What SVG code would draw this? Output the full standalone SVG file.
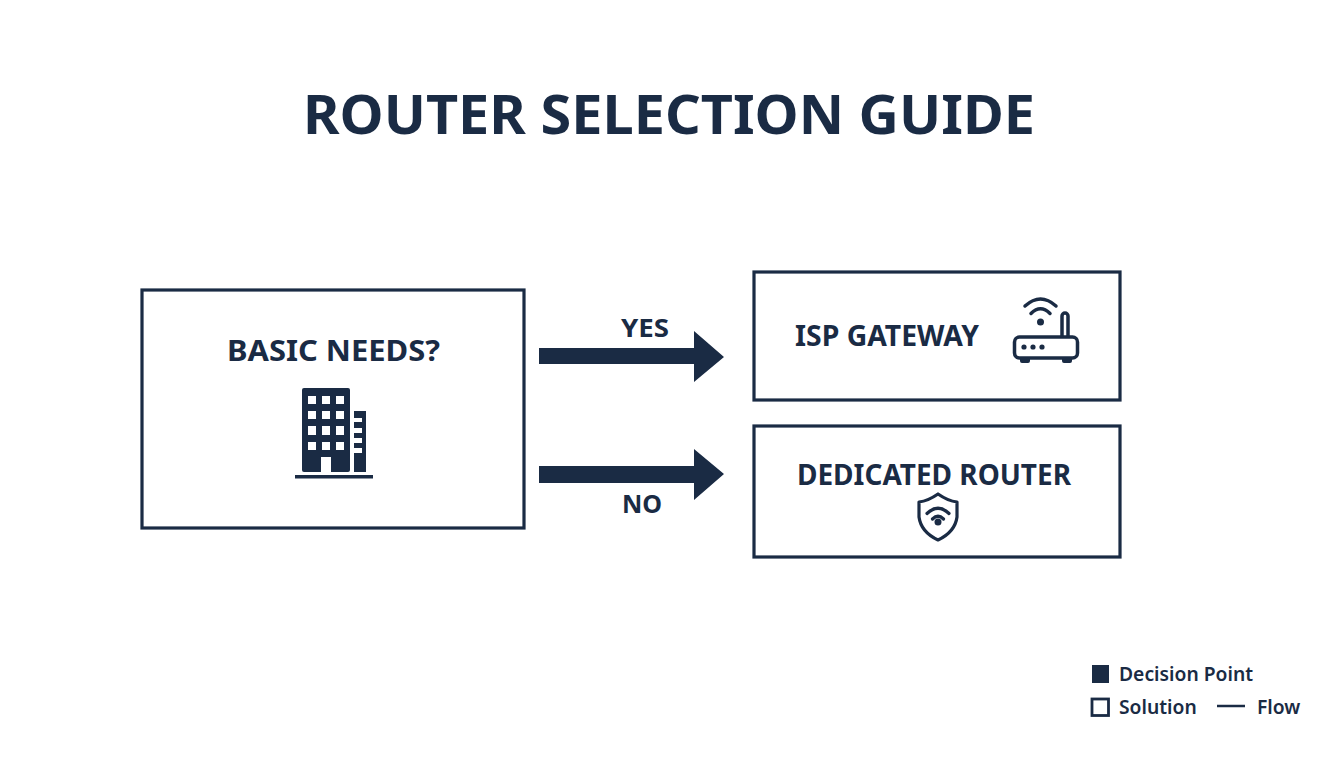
<svg xmlns="http://www.w3.org/2000/svg" width="1344" height="768" viewBox="0 0 1344 768">
<style>
text{font-family:"Noto Sans","Open Sans","Liberation Sans",sans-serif;fill:#1a2b44;font-weight:700;text-anchor:middle}
.box{fill:#fff;stroke:#1a2b44;stroke-width:3.200}
.lbl{font-size:28px}
.edge{font-size:25px}
.leg{font-size:19.300px;font-weight:600;text-anchor:start}
.ink{fill:#1a2b44}
.line{fill:none;stroke:#1a2b44;stroke-linecap:round;stroke-linejoin:round}
.w{fill:#fff}
</style>
<rect width="1344" height="768" fill="#fff"/>
<text id="title" x="669" y="134" font-size="54" textLength="732" lengthAdjust="spacingAndGlyphs">ROUTER SELECTION GUIDE</text>
<g id="connectors">
<path id="yes-arrow" class="ink" d="M539 348H694V331L724 357L694 382V364H539Z"/>
<path id="no-arrow" class="ink" d="M539 466H694V449L724 474L694 500V483H539Z"/>
<text class="edge" x="645" y="337" textLength="48" lengthAdjust="spacingAndGlyphs">YES</text>
<text class="edge" x="642" y="513">NO</text>
</g>
<g id="node-basic-needs">
<rect class="box" x="142" y="290" width="382" height="238"/>
<text class="lbl" x="333.500" y="361" textLength="213" lengthAdjust="spacingAndGlyphs">BASIC NEEDS?</text>
<g id="icon-building">
<rect class="ink" x="302" y="388" width="48" height="84" rx="2"/>
<g class="w">
<rect x="308" y="396" width="8" height="8"/><rect x="322" y="396" width="8" height="8"/><rect x="336" y="396" width="8" height="8"/>
<rect x="308" y="411" width="8" height="8"/><rect x="322" y="411" width="8" height="8"/><rect x="336" y="411" width="8" height="8"/>
<rect x="308" y="426" width="8" height="9"/><rect x="322" y="426" width="8" height="9"/><rect x="336" y="426" width="8" height="9"/>
<rect x="308" y="442" width="8" height="8"/><rect x="322" y="442" width="8" height="8"/><rect x="336" y="442" width="8" height="8"/>
<rect x="321" y="457" width="10" height="15"/>
</g>
<rect class="ink" x="354" y="411" width="12" height="61"/>
<g class="w">
<rect x="354" y="418" width="8" height="4"/><rect x="354" y="428" width="8" height="5"/><rect x="354" y="438" width="8" height="5"/><rect x="354" y="448" width="8" height="5"/>
</g>
<rect class="ink" x="295" y="475" width="78" height="3.500"/>
</g>
</g>
<g id="node-isp-gateway">
<rect class="box" x="754" y="272" width="366" height="128"/>
<text class="lbl" x="887" y="346" textLength="184" lengthAdjust="spacingAndGlyphs">ISP GATEWAY</text>
<g id="icon-router">
<rect class="line" x="1014.500" y="337" width="63" height="21" rx="5" stroke-width="3.500"/>
<path class="line" stroke-width="3.500" d="M1062 336V316a3 3 0 0 1 6 0V336"/>
<path class="ink" d="M1020 359h10v2a2 2 0 0 1-2 2h-6a2 2 0 0 1-2-2zM1062 359h10v2a2 2 0 0 1-2 2h-6a2 2 0 0 1-2-2z"/>
<circle class="ink" cx="1024" cy="347" r="2.600"/><circle class="ink" cx="1033" cy="347" r="2.600"/><circle class="ink" cx="1042" cy="347" r="2.600"/>
<circle class="ink" cx="1040.500" cy="322" r="3.500"/>
<path class="line" stroke-width="3.500" d="M1025 306Q1040.500 292 1056 306M1031 313.500Q1040.500 304 1050 313.500"/>
</g>
</g>
<g id="node-dedicated-router">
<rect class="box" x="754" y="426" width="366" height="131"/>
<text class="lbl" x="934" y="485" textLength="274" lengthAdjust="spacingAndGlyphs">DEDICATED ROUTER</text>
<g id="icon-shield">
<path class="line" stroke-width="3.200" d="M938 494Q928 501 919 502V517Q921 532 938 540Q955 532 957 517V502Q948 501 938 494Z"/>
<circle class="ink" cx="938" cy="522" r="3.500"/>
<path class="line" stroke-width="3.200" d="M927 513.500Q938 503 949 513.500M932.500 519Q938 513.500 943.500 519"/>
</g>
</g>
<g id="legend">
<rect class="ink" x="1092" y="665" width="17" height="18"/>
<text class="leg" x="1119" y="681">Decision Point</text>
<rect x="1092" y="699" width="16.500" height="16.500" fill="#fff" stroke="#1a2b44" stroke-width="2.800"/>
<text class="leg" x="1119" y="714">Solution</text>
<path d="M1217 706H1245" stroke="#1a2b44" stroke-width="2.500"/>
<text class="leg" x="1257" y="714">Flow</text>
</g>
</svg>
